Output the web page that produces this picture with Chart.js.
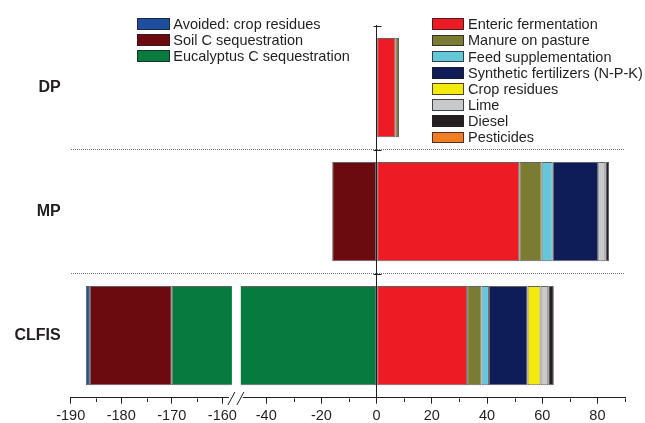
<!DOCTYPE html>
<html>
<head>
<meta charset="utf-8">
<script src="https://cdn.jsdelivr.net/npm/chart.js@4.4.1/dist/chart.umd.min.js"></script>
<style>
  body { margin: 0; background: #fff; }
  #marco { position: relative; width: 645px; height: 423px; font-family: 'Liberation Sans', Arial, sans-serif; color: #231f20; }
  #grafico { position: absolute; left: 0; top: 0; }
  .leyenda-item { position: absolute; height: 16px; display: flex; align-items: center; font-size: 14.5px; line-height: 16px; white-space: nowrap; }
  .leyenda-caja { width: 32.5px; height: 11.7px; box-sizing: border-box; border: 1px solid rgba(35,31,32,0.8); margin-right: 3.8px; flex: none; }
</style>
</head>
<body>
<div id="marco">
  <canvas id="grafico" width="645" height="423"></canvas>
</div>
<script>
const CATEGORIAS = ['DP', 'MP', 'CLFIS'];

// Valores por sistema: DP, MP, CLFIS
const EUCALIPTO = [0, 0, -170.0];
const CARBONO_SUELO = [0, -16.1, -16.2];
const RESIDUOS_EVITADOS = [0, 0, -0.8];
const FERMENTACION = [6.9, 51.7, 32.8];
const ESTIERCOL = [1.2, 8.1, 5.2];
const SUPLEMENTO = [0, 4.0, 2.7];
const FERTILIZANTES = [0, 16.5, 14.0];
const RESIDUOS_CULTIVO = [0, 0, 4.7];
const CAL = [0, 2.6, 2.8];
const DIESEL = [0, 1.3, 2.0];
const PESTICIDAS = [0, 0, 0];

// Eje X con corte entre -158.5 y -48.5
const TICKS_X = [-190, -180, -170, -160, -40, -20, 0, 20, 40, 60, 80];
const TICKS_MENORES = [-185, -175, -165, -30, -10, 10, 30, 50, 70, 90];

// Orden de apilado (los negativos salen desde 0 hacia la izquierda)
const SERIES = [
    { etiqueta: 'Eucalyptus C sequestration', datos: EUCALIPTO, color: '#077a40' },
    { etiqueta: 'Soil C sequestration', datos: CARBONO_SUELO, color: '#6b0b10' },
    { etiqueta: 'Avoided: crop residues', datos: RESIDUOS_EVITADOS, color: '#1e4f9f' },
    { etiqueta: 'Enteric fermentation', datos: FERMENTACION, color: '#ed1c24' },
    { etiqueta: 'Manure on pasture', datos: ESTIERCOL, color: '#7a7c33' },
    { etiqueta: 'Feed supplementation', datos: SUPLEMENTO, color: '#64c8da' },
    { etiqueta: 'Synthetic fertilizers (N-P-K)', datos: FERTILIZANTES, color: '#0e1d58' },
    { etiqueta: 'Crop residues', datos: RESIDUOS_CULTIVO, color: '#f2ea0c' },
    { etiqueta: 'Lime', datos: CAL, color: '#c8c9cb' },
    { etiqueta: 'Diesel', datos: DIESEL, color: '#231f20' },
    { etiqueta: 'Pesticides', datos: PESTICIDAS, color: '#f37b20' }
];

const LEYENDA_IZQ = ['Avoided: crop residues', 'Soil C sequestration', 'Eucalyptus C sequestration'];
const LEYENDA_DER = ['Enteric fermentation', 'Manure on pasture', 'Feed supplementation',
    'Synthetic fertilizers (N-P-K)', 'Crop residues', 'Lime', 'Diesel', 'Pesticides'];

// Escala lineal con un tramo "roto"
class EjeCortado extends Chart.LinearScale {
    static id = 'ejeCortado';
    static defaults = {};

    buildTicks() {
        return TICKS_X.map(v => ({ value: v }));
    }

    _tramos() {
        const c = this.options.corte;
        const ancho = this.right - this.left;
        const finIzq = this.left + ancho * c.fraccionIzq;
        const iniDer = finIzq + ancho * c.fraccionHueco;
        return { desde: c.desde, hasta: c.hasta, finIzq, iniDer };
    }

    getPixelForValue(valor) {
        if (valor === null || isNaN(valor)) return NaN;
        const t = this._tramos();
        if (valor <= t.desde) return this.left + (valor - this.min) / (t.desde - this.min) * (t.finIzq - this.left);
        if (valor >= t.hasta) return t.iniDer + (valor - t.hasta) / (this.max - t.hasta) * (this.right - t.iniDer);
        return t.finIzq + (valor - t.desde) / (t.hasta - t.desde) * (t.iniDer - t.finIzq);
    }

    getValueForPixel(px) {
        const t = this._tramos();
        if (px <= t.finIzq) return this.min + (px - this.left) / (t.finIzq - this.left) * (t.desde - this.min);
        if (px >= t.iniDer) return t.hasta + (px - t.iniDer) / (this.right - t.iniDer) * (this.max - t.hasta);
        return t.desde + (px - t.finIzq) / (t.iniDer - t.finIzq) * (t.hasta - t.desde);
    }
}
Chart.register(EjeCortado);

// Corte del eje, ticks menores y marcas de la línea del cero
const decoracion = {
    id: 'decoracion',
    afterDatasetsDraw(chart) {
        const { ctx } = chart;
        const x = chart.scales.x, y = chart.scales.y;
        const c = x.options.corte;
        const gx1 = x.getPixelForValue(c.desde);
        const gx2 = x.getPixelForValue(c.hasta);
        const ejeY = Math.round(x.top) + 0.5;

        ctx.save();
        ctx.fillStyle = '#fff';

        // hueco en las barras que cruzan el corte
        chart.data.datasets.forEach((ds, i) => {
            chart.getDatasetMeta(i).data.forEach(el => {
                const a = Math.min(el.x, el.base), b = Math.max(el.x, el.base);
                if (a < gx1 && b > gx2) {
                    ctx.fillRect(gx1 + 2, el.y - el.height / 2 - 1, (gx2 - 2) - (gx1 + 2), el.height + 2);
                }
            });
        });

        // hueco en la línea del eje y las dos barras inclinadas
        ctx.fillRect(gx1 - 1, ejeY - 2, gx2 - gx1 + 1, 4);
        ctx.strokeStyle = '#231f20';
        ctx.lineWidth = 1;
        ctx.beginPath();
        ctx.moveTo(gx1 - 2, ejeY + 6.5); ctx.lineTo(gx1 + 5, ejeY - 6.5);
        ctx.moveTo(gx1 + 7, ejeY + 6.5); ctx.lineTo(gx1 + 14, ejeY - 6.5);

        // ticks menores
        TICKS_MENORES.forEach(v => {
            const px = Math.round(x.getPixelForValue(v)) + 0.5;
            ctx.moveTo(px, ejeY);
            ctx.lineTo(px, ejeY + 3.5);
        });

        // marcas sobre la línea del cero
        const x0 = Math.round(x.getPixelForValue(0)) + 0.5;
        [-0.5, 0.5, 1.5].forEach(j => {
            const py = Math.round(y.getPixelForValue(j)) + 0.5;
            ctx.moveTo(x0 - 4, py);
            ctx.lineTo(x0 + 4, py);
        });
        ctx.stroke();
        ctx.restore();
    }
};

const ctx = document.getElementById('grafico').getContext('2d');
new Chart(ctx, {
    type: 'bar',
    data: {
        labels: CATEGORIAS,
        datasets: SERIES.map(s => ({
            label: s.etiqueta,
            data: s.datos,
            backgroundColor: s.color,
            borderColor: 'rgba(35,31,32,0.7)',
            borderWidth: 1,
            borderSkipped: false,
            barPercentage: 0.8,
            categoryPercentage: 1,
            xAxisID: 'x',
            yAxisID: 'y'
        }))
    },
    options: {
        indexAxis: 'y',
        responsive: false,
        maintainAspectRatio: false,
        animation: false,
        events: [],
        layout: { padding: { left: 10, top: 25.7, right: 20, bottom: 0 } },
        scales: {
            x: {
                type: 'ejeCortado',
                stacked: true,
                min: -190,
                max: 90,
                corte: { desde: -158.5, hasta: -48.5, fraccionIzq: 0.2872, fraccionHueco: 0.0233 },
                afterFit(scale) { scale.height = 25.3; },
                grid: { drawOnChartArea: false, drawTicks: true, tickLength: 6, color: '#231f20' },
                border: { display: true, color: '#231f20', width: 1 },
                ticks: {
                    autoSkip: false,
                    maxRotation: 0,
                    padding: 4,
                    color: '#231f20',
                    font: { family: "'Liberation Sans', Arial, sans-serif", size: 14.5 }
                }
            },
            y: {
                type: 'category',
                stacked: true,
                offset: true,
                afterFit(scale) { scale.width = 60.7; },
                grid: {
                    offset: true,
                    drawOnChartArea: true,
                    drawTicks: false,
                    lineWidth: 1,
                    color: c => (c.index === 1 || c.index === 2) ? '#777' : 'rgba(0,0,0,0)'
                },
                border: { display: false, dash: [1, 1] },
                ticks: {
                    padding: 10,
                    color: '#231f20',
                    font: { family: "'Liberation Sans', Arial, sans-serif", size: 16, weight: 'bold' }
                }
            },
            y2: {
                type: 'category',
                position: { x: 0 },
                offset: true,
                z: 1,
                grid: { offset: true, drawOnChartArea: false, drawTicks: false },
                border: { display: true, color: '#231f20', width: 1 },
                ticks: { display: false }
            }
        },
        plugins: {
            legend: { display: false },
            tooltip: { enabled: false }
        }
    },
    plugins: [decoracion]
});

// Leyenda en dos columnas
function ponerLeyenda(etiquetas, izquierda, centroInicial, paso) {
    const marco = document.getElementById('marco');
    etiquetas.forEach((et, i) => {
        const serie = SERIES.find(s => s.etiqueta === et);
        const item = document.createElement('div');
        item.className = 'leyenda-item';
        item.style.left = izquierda + 'px';
        item.style.top = (centroInicial + i * paso - 8) + 'px';
        const caja = document.createElement('span');
        caja.className = 'leyenda-caja';
        caja.style.background = serie.color;
        const texto = document.createElement('span');
        texto.textContent = et;
        item.appendChild(caja);
        item.appendChild(texto);
        marco.appendChild(item);
    });
}
ponerLeyenda(LEYENDA_IZQ, 137, 24.0, 16);
ponerLeyenda(LEYENDA_DER, 431.7, 24.2, 16.17);
</script>
</body>
</html>
